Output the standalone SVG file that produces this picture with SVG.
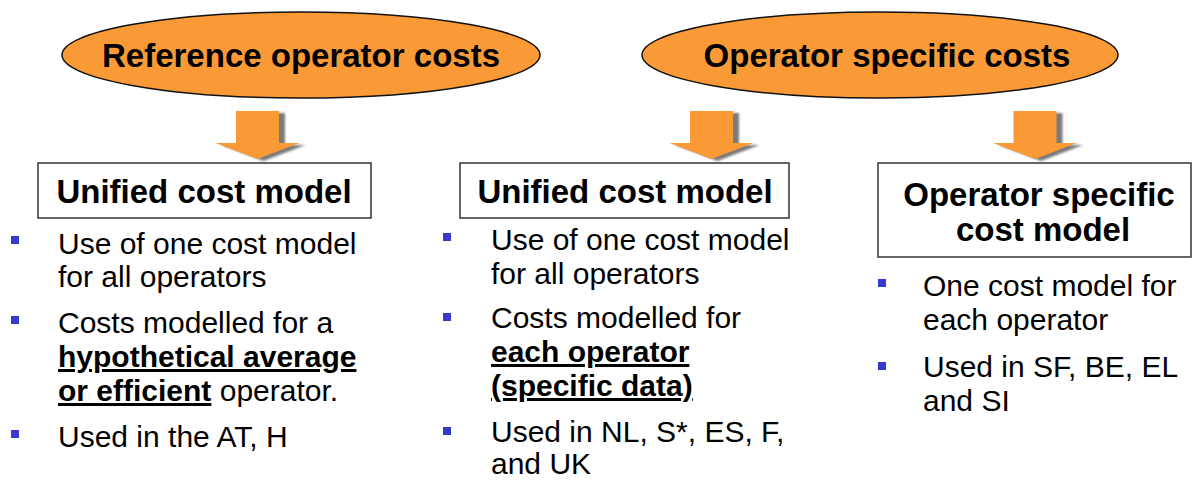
<svg xmlns="http://www.w3.org/2000/svg" width="1194" height="480" viewBox="0 0 1194 480">
  <style>
    .oval { fill: #FA9A37; stroke: #111; stroke-width: 1.5; }
    .oval-label { font-family: "Liberation Sans", Arial, sans-serif; font-weight: bold; font-size: 33px; fill: #000; text-anchor: middle; }
    .box { fill: #fff; stroke: #333; stroke-width: 1.5; }
    .box-label { font-family: "Liberation Sans", Arial, sans-serif; font-weight: bold; font-size: 33px; fill: #000; text-anchor: middle; }
    .item { font-family: "Liberation Sans", Arial, sans-serif; font-size: 30px; fill: #000; }
    .strong { font-weight: bold; text-decoration: underline; text-decoration-thickness: 3px; }
    .dot { fill: #3838CE; }
    .arrow { fill: #FA9A37; }
    .arrow-shadow { fill: #7a7a7a; filter: url(#soft); }
  </style>
  <defs>
    <filter id="soft" x="-20%" y="-20%" width="140%" height="140%">
      <feGaussianBlur stdDeviation="1"/>
    </filter>
    <!-- block arrow pointing down, origin at shaft top centre -->
    <path id="downArrow" d="M -21.5 0 L 21.5 0 L 21.5 32 L 42 32 L 0 48 L -42 32 L -21.5 32 Z"/>
    <rect id="bullet" width="8" height="8"/>
  </defs>

  <!-- source categories -->
  <g id="ref-costs">
    <ellipse class="oval" cx="301" cy="55" rx="239" ry="43"/>
    <text class="oval-label" x="301" y="67">Reference operator costs</text>
  </g>
  <g id="op-costs">
    <ellipse class="oval" cx="880" cy="55" rx="238" ry="43"/>
    <text class="oval-label" x="887" y="67">Operator specific costs</text>
  </g>

  <!-- connectors -->
  <g id="connectors">
    <use href="#downArrow" class="arrow-shadow" x="260.5" y="113" transform="translate(3,0)"/>
    <use href="#downArrow" class="arrow" x="257.5" y="111"/>
    <use href="#downArrow" class="arrow-shadow" x="714.5" y="113" transform="translate(3,0)"/>
    <use href="#downArrow" class="arrow" x="711.5" y="111"/>
    <use href="#downArrow" class="arrow-shadow" x="1038" y="113" transform="translate(3,0)"/>
    <use href="#downArrow" class="arrow" x="1035" y="111"/>
  </g>

  <!-- model boxes -->
  <g id="unified-1">
    <rect class="box" x="38" y="163" width="333" height="55"/>
    <text class="box-label" x="204" y="203">Unified cost model</text>
  </g>
  <g id="unified-2">
    <rect class="box" x="460" y="163" width="329" height="55"/>
    <text class="box-label" x="625" y="203">Unified cost model</text>
  </g>
  <g id="specific-model">
    <rect class="box" x="878" y="163" width="313" height="94"/>
    <text class="box-label" x="1039" y="206">Operator specific</text>
    <text class="box-label" x="1043" y="241">cost model</text>
  </g>

  <!-- bullet lists -->
  <g id="list-1">
    <use href="#bullet" class="dot" x="11" y="236"/>
    <text class="item" x="58" y="254">Use of one cost model</text>
    <text class="item" x="58" y="287">for all operators</text>
    <use href="#bullet" class="dot" x="11" y="316"/>
    <text class="item" x="58" y="333">Costs modelled for a</text>
    <text class="item" x="58" y="367"><tspan class="strong">hypothetical average</tspan></text>
    <text class="item" x="58" y="401"><tspan class="strong">or efficient</tspan> operator.</text>
    <use href="#bullet" class="dot" x="11" y="430"/>
    <text class="item" x="58" y="447">Used in the AT, H</text>
  </g>
  <g id="list-2">
    <use href="#bullet" class="dot" x="443" y="233"/>
    <text class="item" x="491" y="250">Use of one cost model</text>
    <text class="item" x="491" y="284">for all operators</text>
    <use href="#bullet" class="dot" x="443" y="313"/>
    <text class="item" x="491" y="328">Costs modelled for</text>
    <text class="item" x="491" y="362"><tspan class="strong">each operator</tspan></text>
    <text class="item" x="491" y="396"><tspan class="strong">(specific data)</tspan></text>
    <use href="#bullet" class="dot" x="443" y="427"/>
    <text class="item" x="491" y="442">Used in NL, S*, ES, F,</text>
    <text class="item" x="491" y="474">and UK</text>
  </g>
  <g id="list-3">
    <use href="#bullet" class="dot" x="878" y="279"/>
    <text class="item" x="923" y="296">One cost model for</text>
    <text class="item" x="923" y="330">each operator</text>
    <use href="#bullet" class="dot" x="878" y="362"/>
    <text class="item" x="923" y="377">Used in SF, BE, EL</text>
    <text class="item" x="923" y="411">and SI</text>
  </g>
</svg>
